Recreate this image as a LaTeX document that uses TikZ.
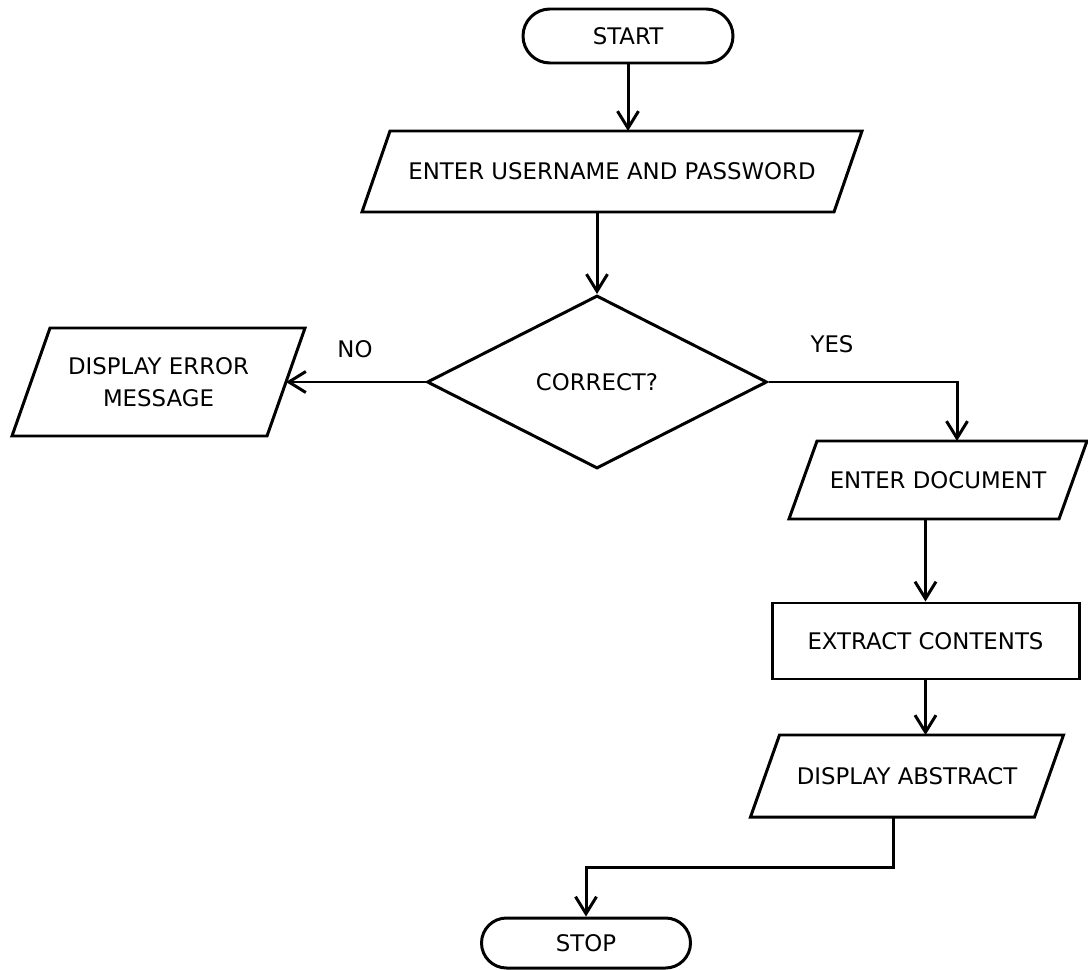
\documentclass[tikz,border=0pt]{standalone}
\usepackage{fontspec}
\setmainfont{DejaVu Sans}
\usetikzlibrary{shapes.geometric,shapes.misc,arrows.meta}

\tikzset{
  base/.style={draw=black, line width=1.7pt, fill=white, align=center,
    font=\fontsize{13}{17}\selectfont, inner sep=0pt},
  terminal/.style={base, rounded rectangle},
  % parallelogram body: text box whose outline is drawn by \ioframe
  iobox/.style={base, rectangle, draw=none, fill=none, outer sep=0pt},
  frame/.style={draw=black, line width=1.7pt, line join=miter},
  process/.style={base, rectangle},
  decision/.style={base, diamond},
  lbl/.style={font=\fontsize{13}{17}\selectfont, inner sep=0pt},
  flow/.style={line width=1.7pt,
    -{Straight Barb[length=3.4mm, width=4.2mm, line width=1.7pt]}},
}

% outline of an input/output box: #1 node name, #2 half of the slant
\newcommand\ioframe[2]{%
  \draw[frame] ([xshift=#2]#1.north west) -- ([xshift=#2]#1.north east)
    -- ([xshift=-#2]#1.south east) -- ([xshift=-#2]#1.south west) -- cycle;}

\begin{document}
\begin{tikzpicture}[x=0.2mm, y=-0.2mm]
\useasboundingbox (0,0) rectangle (1088,970);

% shapes
\node[terminal, minimum width=42mm, minimum height=10.8mm] (start) at (628,36) {START};
\node[iobox, minimum width=94.4mm, minimum height=16.2mm] (user) at (612,171.5) {ENTER USERNAME AND PASSWORD};
\node[decision, minimum width=68mm, minimum height=34.6mm] (dec) at (597,382) {CORRECT?};
\node[iobox, minimum width=51mm, minimum height=21.6mm] (err) at (158.5,382) {DISPLAY ERROR\\[1pt]MESSAGE};
\node[iobox, minimum width=54mm, minimum height=15.6mm] (doc) at (938,480) {ENTER DOCUMENT};
\node[process, minimum width=61.4mm, minimum height=15.2mm] (ext) at (925.5,641) {EXTRACT CONTENTS};
\node[iobox, minimum width=56.8mm, minimum height=16.4mm] (abs) at (907,776) {DISPLAY ABSTRACT};
\node[terminal, minimum width=41.8mm, minimum height=10mm] (stop) at (586,943) {STOP};

\ioframe{user}{2.8mm}
\ioframe{err}{3.8mm}
\ioframe{doc}{2.8mm}
\ioframe{abs}{2.9mm}

% branch labels
\node[lbl] (no) at (355,349) {NO};
\node[lbl] (yes) at (832,344) {YES};

% helper points for the bends
\coordinate (yesx) at (957,0);
\coordinate (absout) at (893,0);
\coordinate (jog) at (586,867);

% connectors
\draw[flow] (start.south) -- (start.south |- user.north);
\draw[flow] (dec.north |- user.south) -- (dec.north);
\draw[flow] (dec.west) -- (err.east);
\draw[flow] (dec.east) -| (yesx |- doc.north);
\draw[flow] (ext.north |- doc.south) -- (ext.north);
\draw[flow] (ext.south) -- (ext.south |- abs.north);
\draw[flow] (absout |- abs.south) |- (jog) -- (stop.north);
\end{tikzpicture}
\end{document}
